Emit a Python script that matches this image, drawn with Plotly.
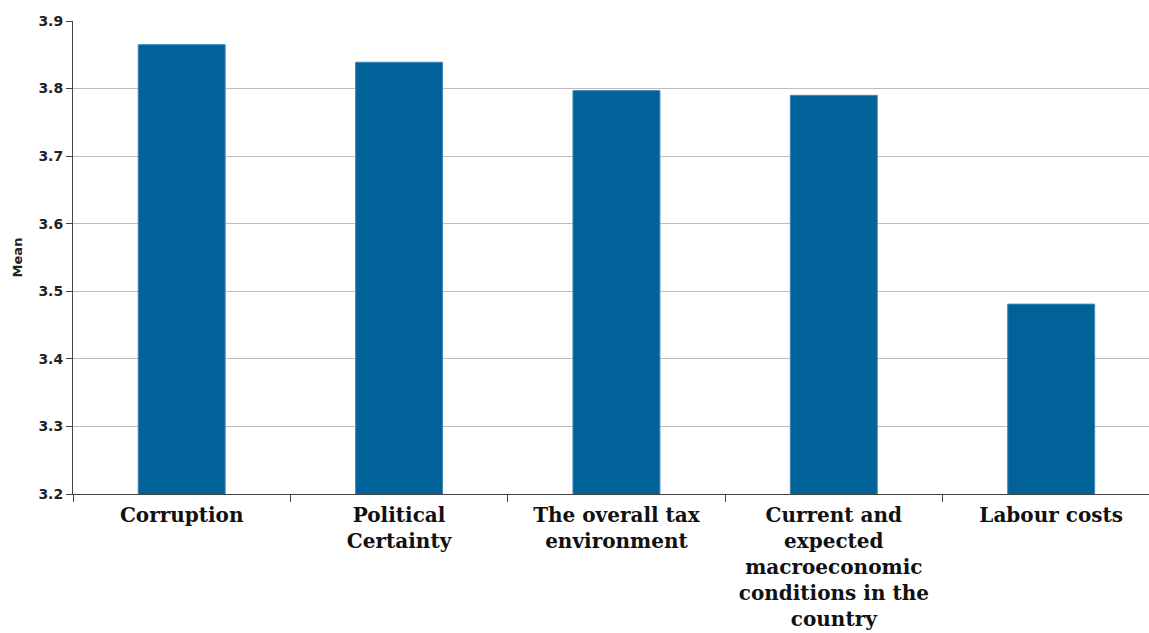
import plotly.graph_objects as go

categories = [
    "Corruption",
    "Political<br>Certainty",
    "The overall tax<br>environment",
    "Current and<br>expected<br>macroeconomic<br>conditions in the<br>country",
    "Labour costs",
]
means = [3.865, 3.839, 3.797, 3.790, 3.481]
y_ticks = [3.2, 3.3, 3.4, 3.5, 3.6, 3.7, 3.8, 3.9]

fig = go.Figure(
    go.Bar(
        x=categories,
        y=means,
        width=0.4,
        marker=dict(color="#006299", line=dict(color="#3f88b8", width=1)),
    )
)

fig.update_layout(
    width=1149,
    height=633,
    margin=dict(l=73, r=0, t=21, b=139),
    plot_bgcolor="white",
    paper_bgcolor="white",
    showlegend=False,
    bargap=0.6,
)

fig.update_xaxes(
    range=[-0.5, 4.45],
    tickson="boundaries",
    ticks="outside",
    ticklen=7,
    tickcolor="#444444",
    showline=True,
    linecolor="#444444",
    linewidth=1,
    showgrid=False,
    tickfont=dict(family="DejaVu Serif", size=20, color="#111111", weight="bold"),
    tickangle=0,
    ticklabelstandoff=3,
    automargin=False,
)

fig.update_yaxes(
    range=[3.2, 3.9],
    tickvals=y_ticks,
    ticktext=[f"{v:.1f}" for v in y_ticks],
    ticks="outside",
    ticklen=6,
    tickcolor="#444444",
    showline=True,
    linecolor="#444444",
    linewidth=1,
    showgrid=True,
    gridcolor="#bdbdbd",
    gridwidth=1,
    zeroline=False,
    automargin=False,
    tickfont=dict(family="DejaVu Sans", size=14, color="#222222", weight="bold"),
    title=dict(
        text="Mean",
        font=dict(family="DejaVu Sans", size=13, color="#222222", weight="bold"),
        standoff=12,
    ),
)

fig.write_html("out.html")
